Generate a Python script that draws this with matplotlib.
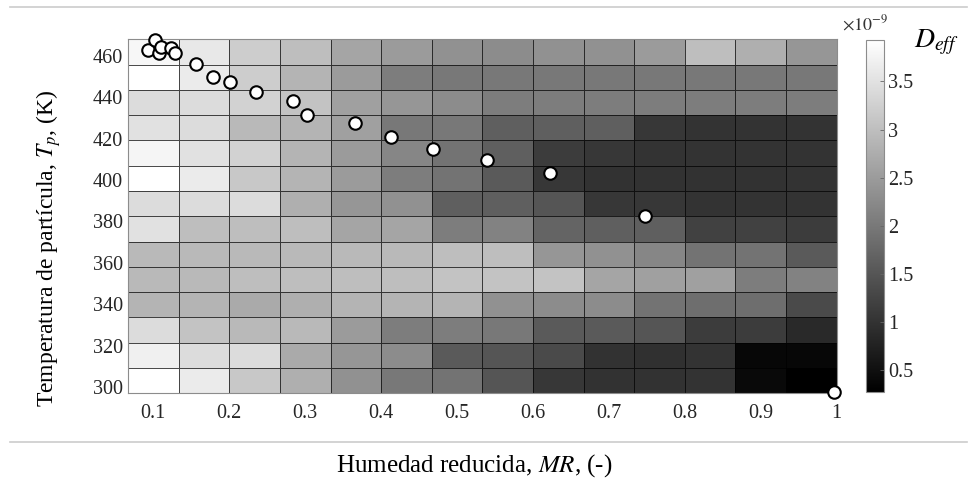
import numpy as np
import matplotlib
matplotlib.use("Agg")
import matplotlib.pyplot as plt
from matplotlib.lines import Line2D

plt.rcParams['font.family'] = ['Liberation Serif', 'DejaVu Serif']
plt.rcParams['mathtext.fontset'] = 'stix'

# bordes de las celdas (humedad reducida y temperatura de particula)
mr_edges = np.linspace(0.067, 1.0, 15)
tp_edges = np.linspace(468.0, 297.0, 15)   # de arriba hacia abajo

# Deff (x1e-9 m2/s), filas de arriba (T alta) hacia abajo
deff = [
    [3.81, 3.60, 3.21, 2.99, 2.63, 2.49, 2.35, 2.28, 2.35, 2.35, 2.49, 2.99, 2.78, 2.42],
    [3.93, 3.64, 3.21, 2.85, 2.49, 2.06, 1.99, 1.99, 1.99, 1.99, 1.99, 1.99, 1.99, 1.99],
    [3.42, 3.42, 3.28, 3.07, 2.56, 2.42, 2.28, 2.06, 2.06, 2.06, 2.06, 2.06, 2.06, 2.06],
    [3.50, 3.42, 2.92, 2.85, 2.56, 1.99, 1.99, 1.63, 1.63, 1.63, 1.06, 1.01, 1.01, 1.01],
    [3.78, 3.50, 3.28, 2.85, 2.49, 2.20, 1.92, 1.63, 1.13, 1.06, 1.01, 1.01, 1.01, 1.01],
    [3.93, 3.64, 3.14, 2.85, 2.49, 2.06, 1.92, 1.56, 1.06, 0.99, 0.99, 0.99, 0.99, 1.01],
    [3.42, 3.42, 3.42, 2.78, 2.42, 2.35, 1.63, 1.63, 1.49, 1.06, 1.06, 1.01, 1.01, 1.01],
    [3.50, 2.99, 2.99, 2.99, 2.63, 2.63, 2.06, 2.13, 1.70, 1.63, 1.63, 1.20, 1.20, 1.13],
    [2.92, 2.92, 2.92, 2.92, 2.92, 2.92, 2.99, 2.99, 2.42, 2.35, 2.20, 1.92, 1.92, 1.56],
    [2.92, 2.92, 2.99, 2.99, 2.99, 2.99, 3.07, 3.07, 3.07, 2.63, 2.56, 2.56, 2.06, 2.13],
    [2.85, 2.85, 2.71, 2.78, 2.85, 2.85, 2.85, 2.35, 2.28, 2.28, 1.92, 1.85, 1.85, 1.34],
    [3.42, 3.07, 2.92, 2.92, 2.49, 2.06, 2.06, 1.99, 1.56, 1.56, 1.49, 1.13, 1.13, 0.87],
    [3.71, 3.42, 3.42, 2.71, 2.42, 2.28, 1.56, 1.49, 1.34, 0.99, 0.96, 1.01, 0.38, 0.38],
    [3.93, 3.64, 3.14, 2.78, 2.35, 1.99, 1.92, 1.49, 1.06, 0.99, 0.99, 1.01, 0.41, 0.27],
]
deff_min, deff_max = 0.27, 3.93

# trayectoria de secado (puntos)
mr_pts = [0.093, 0.102, 0.107, 0.110, 0.123, 0.129, 0.156, 0.179, 0.201, 0.235,
          0.284, 0.303, 0.366, 0.413, 0.468, 0.540, 0.623, 0.748, 0.996]
tp_pts = [462.8, 467.7, 461.6, 464.5, 463.7, 461.2, 456.1, 449.7, 447.4, 442.4,
          438.1, 431.3, 427.4, 420.7, 415.1, 409.7, 403.2, 382.7, 297.6]

xticks = [0.1, 0.2, 0.3, 0.4, 0.5, 0.6, 0.7, 0.8, 0.9, 1.0]
xticklabels = ['0.1', '0.2', '0.3', '0.4', '0.5', '0.6', '0.7', '0.8', '0.9', '1']
yticks = [300, 320, 340, 360, 380, 400, 420, 440, 460]
cticks = [0.5, 1, 1.5, 2, 2.5, 3, 3.5]

fig = plt.figure(figsize=(9.77, 4.78), dpi=100)
ax = fig.add_axes([0.1313, 0.1772, 0.7251, 0.7406])

mesh = ax.pcolormesh(mr_edges, tp_edges, np.array(deff), cmap='gray',
                     vmin=deff_min, vmax=deff_max,
                     edgecolors=(0, 0, 0, 0.7), linewidth=0.6)
ax.plot(mr_pts, tp_pts, 'o', mfc='white', mec='black', ms=9, mew=1.5,
        clip_on=False, zorder=5)

ax.set_xlim(0.067, 1.0)
ax.set_ylim(297, 468)
ax.set_xticks(xticks)
ax.set_xticklabels(xticklabels)
ax.set_yticks(yticks)
ax.tick_params(length=0, labelsize=14.5, labelcolor='0.15')
ax.tick_params(axis='x', pad=8)
ax.tick_params(axis='y', pad=4)
for s in ax.spines.values():
    s.set_color('0.55')
    s.set_linewidth(0.8)

fig.text(0.050, 0.48, 'Temperatura de partícula, $T_p$, (K)', rotation=90,
         ha='center', va='center', fontsize=17)
fig.text(0.485, 0.027, 'Humedad reducida, $MR$, (-)', ha='center',
         va='center', fontsize=18)

# barra de color
cax = fig.add_axes([0.8864, 0.1793, 0.0187, 0.737])
cb = fig.colorbar(mesh, cax=cax, ticks=cticks)
cb.ax.set_yticklabels(['0.5', '1', '1.5', '2', '2.5', '3', '3.5'])
cb.ax.tick_params(direction='in', length=3, width=0.6, color='0.4',
                  labelsize=14.5, labelcolor='0.15', pad=3)
cb.outline.set_edgecolor('0.55')
cb.outline.set_linewidth(0.8)
fig.text(0.862, 0.950, r'$\times10^{-9}$', fontsize=13, color='0.2',
         ha='left', va='center')
fig.text(0.936, 0.912, '$D_{eff}$', fontsize=20, ha='left', va='center')

# lineas de la tabla del documento
fig.add_artist(Line2D([0.010, 0.990], [0.9847, 0.9847], color='0.8', lw=1.2))
fig.add_artist(Line2D([0.010, 0.990], [0.0760, 0.0760], color='0.8', lw=1.2))

fig.savefig('out.png', dpi=100)
